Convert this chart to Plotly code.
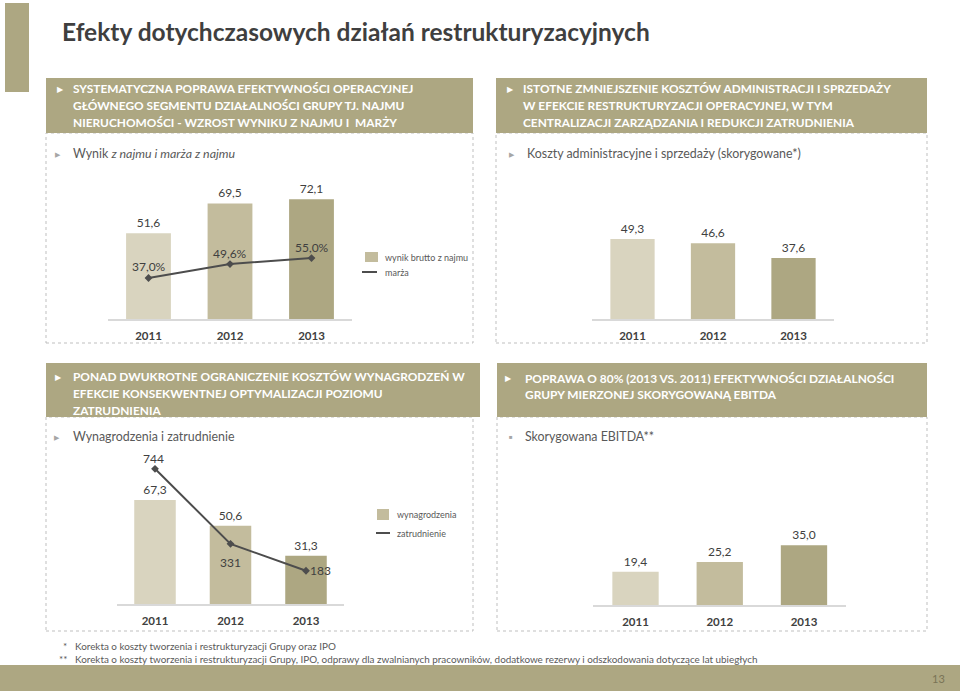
import plotly.graph_objects as go

W, H = 960, 691
def px(x): return x / W
def py(y): return 1 - y / H

# ---------------- data ----------------
years = ["2011", "2012", "2013"]
wynik_brutto = [51.6, 69.5, 72.1]      # mln PLN
marza = [37.0, 49.6, 55.0]             # %
koszty_adm = [49.3, 46.6, 37.6]        # mln PLN
wynagrodzenia = [67.3, 50.6, 31.3]     # mln PLN
zatrudnienie = [744, 331, 183]         # osoby
ebitda = [19.4, 25.2, 35.0]            # mln PLN

# ---------------- style ----------------
FONT = "Lato, 'Open Sans', sans-serif"
TEXT = "#404040"
SUB = "#595959"
HEAD = "#ADA782"
LINE = "#4D4D4D"
BASE = "#D9D9D9"
DASH = "#BFBFBF"
bar_colors = ["#D9D4BF", "#C3BC9D", "#ADA782"]

def fmt(v, d=1):
    return f"{v:.{d}f}".replace(".", ",")

fig = go.Figure()

bar_style = dict(marker=dict(color=bar_colors, line=dict(width=0)),
                 texttemplate="%{y:.1f}", textposition="outside",
                 textfont=dict(family=FONT, size=12, color=TEXT),
                 cliponaxis=False, showlegend=False, hoverinfo="skip")
line_style = dict(mode="lines+markers", line=dict(color=LINE, width=2),
                  marker=dict(symbol="diamond", size=6, color=LINE),
                  cliponaxis=False, showlegend=False, hoverinfo="skip")

# chart 1
fig.add_trace(go.Bar(x=years, y=wynik_brutto, xaxis="x", yaxis="y", **bar_style))
fig.add_trace(go.Scatter(x=years, y=marza, xaxis="x", yaxis="y2", **line_style))
# chart 2
fig.add_trace(go.Bar(x=years, y=koszty_adm, xaxis="x2", yaxis="y3", **bar_style))
# chart 3
fig.add_trace(go.Bar(x=years, y=wynagrodzenia, xaxis="x3", yaxis="y4", **bar_style))
fig.add_trace(go.Scatter(x=years, y=zatrudnienie, xaxis="x3", yaxis="y5", **line_style))
# chart 4
fig.add_trace(go.Bar(x=years, y=ebitda, xaxis="x4", yaxis="y6", **bar_style))

xstyle = dict(type="category", range=[-0.5, 2.5], showline=True, linecolor=BASE,
              linewidth=1.5, ticks="", showgrid=False, zeroline=False,
              tickfont=dict(family=FONT, size=11.5, color=TEXT, weight="bold"),
              ticklabelstandoff=5, fixedrange=True)
ystyle = dict(visible=False, showgrid=False, zeroline=False, fixedrange=True)

annotations = []
shapes = []

# line labels chart 1 (margin %) -- category axis positions are indices
for i, v in enumerate(marza):
    annotations.append(dict(x=i, y=v, xref="x", yref="y2", text=fmt(v) + "%",
                            showarrow=False, yshift=11,
                            font=dict(family=FONT, size=12, color=TEXT)))
# line labels chart 3 (employment)
shifts3 = [(-2, 10), (0, -19), (14, 0)]
for i, (v, (xs, ys)) in enumerate(zip(zatrudnienie, shifts3)):
    annotations.append(dict(x=i, y=v, xref="x3", yref="y5", text=str(v),
                            showarrow=False, yshift=ys, xshift=xs,
                            font=dict(family=FONT, size=12, color=TEXT)))

def rect(x0, y0, x1, y1, **kw):
    shapes.append(dict(type="rect", xref="paper", yref="paper",
                       x0=px(x0), x1=px(x1), y0=py(y1), y1=py(y0), layer="below", **kw))

def text(x, y, s, size=12, color=TEXT, xanchor="left", yanchor="middle", family=FONT, **kw):
    annotations.append(dict(x=px(x), y=py(y), xref="paper", yref="paper", text=s,
                            showarrow=False, xanchor=xanchor, yanchor=yanchor,
                            align="left", font=dict(family=family, size=size, color=color), **kw))

# accent bar, bottom bar
rect(5, 3, 29, 92, fillcolor=HEAD, line=dict(width=0))
rect(0, 665, 960, 691, fillcolor=HEAD, line=dict(width=0))
text(947, 678, "13", size=11, color="#7A7456", xanchor="right")

# title
text(60, 31, "<b>Efekty dotychczasowych działań restrukturyzacyjnych</b>", size=24.5, color="#3F3F3F")

# panels
for (x0, y0, x1, y1) in [(46, 133, 473, 343), (496, 133, 927, 343),
                         (46, 417, 473, 631), (497, 417, 927, 631)]:
    rect(x0, y0, x1, y1, fillcolor="rgba(0,0,0,0)", line=dict(color=DASH, width=1, dash="dot"))

# headers
headers = [
    ((46, 78, 473, 133), 60, 73, 89,
     ["SYSTEMATYCZNA POPRAWA EFEKTYWNOŚCI OPERACYJNEJ",
      "GŁÓWNEGO SEGMENTU DZIAŁALNOŚCI GRUPY TJ. NAJMU",
      "NIERUCHOMOŚCI - WZROST WYNIKU Z NAJMU I  MARŻY"]),
    ((496, 78, 927, 133), 510, 523, 89,
     ["ISTOTNE ZMNIEJSZENIE KOSZTÓW ADMINISTRACJI I SPRZEDAŻY",
      "W EFEKCIE RESTRUKTURYZACJI OPERACYJNEJ, W TYM",
      "CENTRALIZACJI ZARZĄDZANIA I REDUKCJI ZATRUDNIENIA"]),
    ((46, 363, 480, 417), 58, 73, 377,
     ["PONAD DWUKROTNE OGRANICZENIE KOSZTÓW WYNAGRODZEŃ W",
      "EFEKCIE KONSEKWENTNEJ OPTYMALIZACJI POZIOMU",
      "ZATRUDNIENIA"]),
    ((497, 363, 927, 417), 509, 525, 378,
     ["POPRAWA O 80% (2013 VS. 2011) EFEKTYWNOŚCI DZIAŁALNOŚCI",
      "GRUPY MIERZONEJ SKORYGOWANĄ EBITDA"]),
]
for (x0, y0, x1, y1), ax, tx, ty, lines in headers:
    rect(x0, y0, x1, y1, fillcolor=HEAD, line=dict(width=0))
    text(ax, ty, "▶", size=8, color="white", xanchor="center")
    for k, s in enumerate(lines):
        text(tx - 2, ty + 16.7 * k, "<b>" + s + "</b>", size=11.9, color="white")

# subtitles
SUBSZ = 12.4
text(58, 154, "▶", size=7, color="#A6A6A6", xanchor="center")
text(71, 154, "Wynik <i>z najmu i marża z najmu</i>", size=SUBSZ, color=SUB)
text(512, 154, "▶", size=7, color="#A6A6A6", xanchor="center")
text(525, 154, "Koszty administracyjne i sprzedaży (skorygowane*)", size=SUBSZ, color=SUB)
text(57, 437, "▶", size=7, color="#A6A6A6", xanchor="center")
text(71, 437, "Wynagrodzenia i zatrudnienie", size=SUBSZ, color=SUB)
text(511, 437, "■", size=6, color="#A6A6A6", xanchor="center")
text(523, 437, "Skorygowana EBITDA**", size=SUBSZ, color=SUB)

# legends
rect(365, 252, 378, 262, fillcolor=bar_colors[1], line=dict(width=0))
text(383, 257, "wynik brutto z najmu", size=9, color=SUB)
shapes.append(dict(type="line", xref="paper", yref="paper", x0=px(362), x1=px(377),
                   y0=py(272), y1=py(272), line=dict(color=LINE, width=2)))
text(383, 272, "marża", size=9, color=SUB)

rect(377, 509, 389, 520, fillcolor=bar_colors[1], line=dict(width=0))
text(395, 514, "wynagrodzenia", size=9, color=SUB)
shapes.append(dict(type="line", xref="paper", yref="paper", x0=px(376), x1=px(390),
                   y0=py(533), y1=py(533), line=dict(color=LINE, width=2)))
text(395, 533, "zatrudnienie", size=9, color=SUB)

# footnotes
FN = 9.9
text(69, 646, "*", size=FN, color=SUB, xanchor="right")
text(73, 646, "Korekta o koszty tworzenia i restrukturyzacji Grupy oraz IPO", size=FN, color=SUB)
text(69, 659, "**", size=FN, color=SUB, xanchor="right")
text(73, 659, "Korekta o koszty tworzenia i restrukturyzacji Grupy, IPO, odprawy dla zwalnianych pracowników, dodatkowe rezerwy i odszkodowania dotyczące lat ubiegłych",
     size=FN, color=SUB)

fig.update_layout(
    width=W, height=H,
    margin=dict(l=0, r=0, t=0, b=0),
    paper_bgcolor="white", plot_bgcolor="rgba(0,0,0,0)",
    separators=", ",
    bargap=0.45,
    showlegend=False,
    font=dict(family=FONT, color=TEXT),
    xaxis=dict(domain=[px(107.75), px(352.25)], anchor="y", **xstyle),
    yaxis=dict(domain=[py(319), py(186)], range=[0, 80], anchor="x", **ystyle),
    yaxis2=dict(overlaying="y", range=[0, 120], anchor="x", **ystyle),
    xaxis2=dict(domain=[px(592.25), px(833.75)], anchor="y3", **xstyle),
    yaxis3=dict(domain=[py(319), py(189)], range=[0, 80], anchor="x2", **ystyle),
    xaxis3=dict(domain=[px(117.25), px(343.75)], anchor="y4", **xstyle),
    yaxis4=dict(domain=[py(604), py(465)], range=[0, 90], anchor="x3", **ystyle),
    yaxis5=dict(overlaying="y4", range=[0, 765], anchor="x3", **ystyle),
    xaxis4=dict(domain=[px(593.4), px(846.1)], anchor="y6", **xstyle),
    yaxis6=dict(domain=[py(605), py(519.5)], range=[0, 50], anchor="x4", **ystyle),
    annotations=annotations,
    shapes=shapes,
)

fig.write_html("out.html", config={"displayModeBar": False},
               post_script="document.body.style.margin='0px';document.body.style.overflow='hidden';")
